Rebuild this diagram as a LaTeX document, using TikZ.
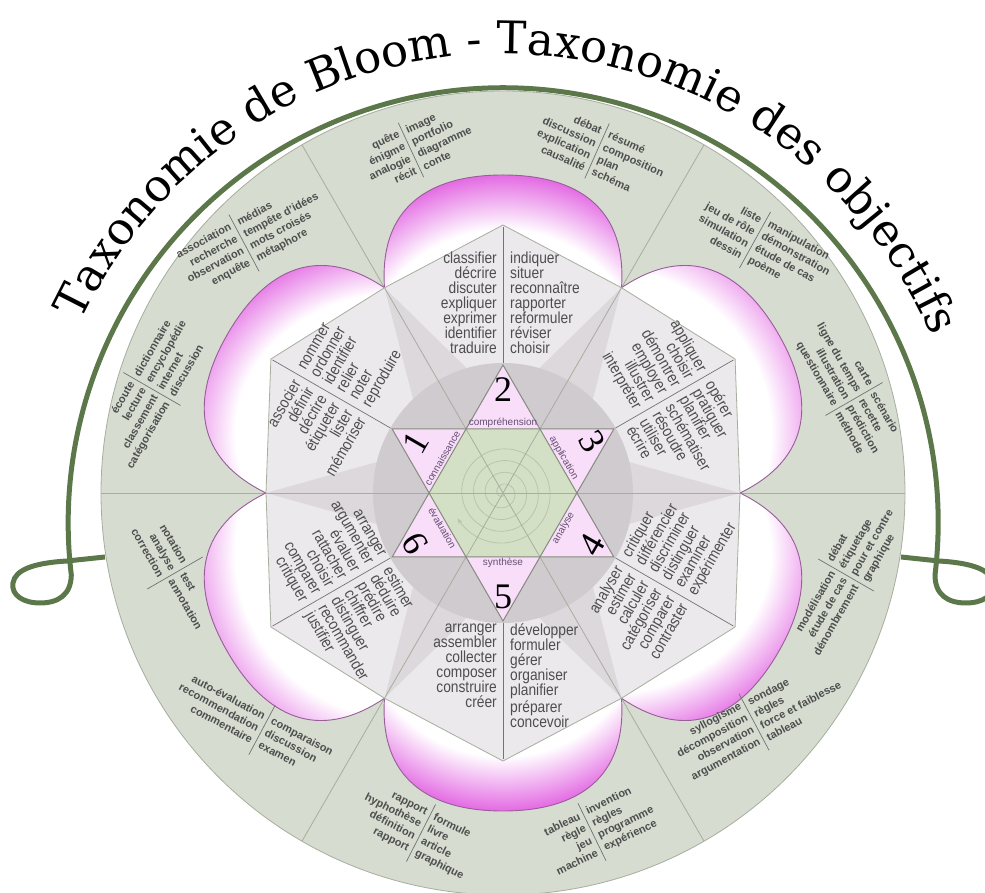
\documentclass[tikz,border=0pt]{standalone}
\usepackage{fontspec}
\setmainfont{Liberation Sans}
\newfontfamily\titlefont{DejaVu Serif}
\newfontfamily\numfont{Liberation Serif}
\newfontfamily\verbfont[FakeStretch=0.86]{Liberation Sans}
\usetikzlibrary{decorations.text,arrows.meta}

\definecolor{ringgrey}{RGB}{214,220,208}
\definecolor{ruleline}{RGB}{166,174,158}
\definecolor{hexfill}{RGB}{236,233,236}
\definecolor{wedgegrey}{RGB}{220,216,220}
\definecolor{coregrey}{RGB}{207,203,207}
\definecolor{starpink}{RGB}{248,222,248}
\definecolor{stargreen}{RGB}{212,224,198}
\definecolor{petalpink}{RGB}{228,110,228}
\definecolor{petaledge}{RGB}{150,96,150}
\definecolor{titlegreen}{RGB}{92,120,74}
\definecolor{wordgrey}{RGB}{78,78,78}
\definecolor{levelpurple}{RGB}{100,80,115}
\definecolor{spiralgrey}{RGB}{185,196,174}

\pgfdeclareradialshading{petalshade}{\pgfpointorigin}{color(0bp)=(white); color(17.5bp)=(white); color(24bp)=(petalpink); color(50bp)=(petalpink)}

\tikzstyle{titlearc}=[draw=titlegreen, line width=5pt]
\tikzstyle{divline}=[draw=ruleline, line width=0.8pt]
\tikzstyle{staredge}=[draw=ruleline!80!black, line width=1pt]
\tikzstyle{sepline}=[draw=black!55, line width=0.7pt]
\tikzstyle{petalrim}=[draw=petaledge, line width=0.9pt]
\tikzstyle{verbl}=[font=\verbfont\fontsize{16}{15}\selectfont, text=wordgrey, align=right, anchor=north east, inner sep=0pt, execute at begin node={\rule{0pt}{12pt}}]
\tikzstyle{verbr}=[verbl, align=left, anchor=north west]
\tikzstyle{ideal}=[font=\bfseries\fontsize{11}{13.5}\selectfont, text=wordgrey, align=right, anchor=east, inner sep=0pt]
\tikzstyle{idear}=[ideal, align=left, anchor=west]
\tikzstyle{levelname}=[font=\fontsize{10}{10}\selectfont, text=levelpurple, inner sep=0pt]
\tikzstyle{levelnum}=[font=\numfont\fontsize{36}{36}\selectfont, inner sep=0pt]

\newcommand\petalpath{(-118.5,205.2) .. controls (-124,285) and (-75,318) .. (0,318) .. controls (75,318) and (124,285) .. (118.5,205.2) -- cycle}

% verbs of one level: name, rotation, top, left column, right column
\newcommand\verbpair[5]{%
  \begin{scope}[rotate=#2, transform shape]
    \node[verbl] (#1-l) at (-6,#3) {#4};
    \node[verbr] (#1-r) at (7,#3) {#5};
  \end{scope}}

% activities in the outer ring: name, position, rotation, half rule, left, right
\newcommand\ideapair[6]{%
  \begin{scope}[shift={#2}, rotate=#3, transform shape]
    \node[ideal] (#1-l) at (-4,0) {#5};
    \node[idear] (#1-r) at (4,0) {#6};
    \draw[sepline] (0,-#4) -- (0,#4);
  \end{scope}}

\begin{document}
\begin{tikzpicture}[x=1pt,y=1pt]
\useasboundingbox (-503,-400) rectangle (482,493);

% green arc with its two loops
\draw[titlearc] (398,-64) -- (436,-68) .. controls (470,-70) and (488,-77) .. (490,-90)
  .. controls (492,-102) and (480,-110) .. (463,-110)
  .. controls (445,-110) and (432,-102) .. (432,-82)
  arc[start angle=-6.9, end angle=186.9, radius=435]
  .. controls (-432,-102) and (-445,-110) .. (-463,-110)
  .. controls (-480,-110) and (-492,-102) .. (-490,-90)
  .. controls (-488,-77) and (-470,-70) .. (-436,-68) -- (-398,-64);

\filldraw[fill=ringgrey, draw=ruleline, line width=0.8pt] (0,0) circle (402);
\foreach \a in {0,60,...,300}
  \draw[divline] (\a:237) -- (\a:402);

% petals
\foreach \a in {0,60,...,300}{
  \begin{scope}[rotate=\a]
    \clip \petalpath;
    \fill[petalpink] (-130,195) rectangle (130,325);
    \shade[shading=petalshade] (0,120) circle (205);
  \end{scope}
  \draw[petalrim, rotate=\a] \petalpath;
}

\filldraw[fill=hexfill, draw=ruleline, line width=0.8pt] (0:237)
  \foreach \a in {30,90,...,330}{ -- (\a:268) -- (\a+30:237)} -- cycle;
\foreach \a in {0,60,...,300}
  \fill[wedgegrey] (\a:237) -- (\a+14:129) -- (\a-14:129) -- cycle;
\fill[coregrey] (0,0) circle (130);

% star
\fill[starpink] (90:128) -- (210:128) -- (330:128) -- cycle;
\fill[starpink] (270:128) -- (30:128) -- (150:128) -- cycle;
\fill[stargreen] (0:74) -- (60:74) -- (120:74) -- (180:74) -- (240:74) -- (300:74) -- cycle;
\draw[spiralgrey, line width=0.8pt, -{Stealth[length=6pt]}]
  plot[domain=0:1591, samples=300, smooth, variable=\t] ({-\t}:{\t/30.6});
\foreach \a in {0,60,120}
  \draw[divline] (\a:237) -- (\a+180:237);
\draw[staredge] (90:128) -- (210:128) -- (330:128) -- cycle;
\draw[staredge] (270:128) -- (30:128) -- (150:128) -- cycle;
\foreach \a in {30,90,...,330}
  \draw[sepline] (\a:130) -- (\a:266);

\node[levelname] (lvl2) at (90:70) {compréhension};
\node[levelname, rotate=-60] (lvl3) at (30:70) {application};
\node[levelname, rotate=60] (lvl4) at (-30:70) {analyse};
\node[levelname] (lvl5) at (270:70) {synthèse};
\node[levelname, rotate=-60] (lvl6) at (210:70) {évaluation};
\node[levelname, rotate=60] (lvl1) at (150:70) {connaissance};

\node[levelnum] (num2) at (90:103) {2};
\node[levelnum, rotate=-60] (num3) at (30:103) {3};
\node[levelnum, rotate=60] (num4) at (-30:103) {4};
\node[levelnum] (num5) at (270:104) {5};
\node[levelnum, rotate=-60] (num6) at (210:101) {6};
\node[levelnum, rotate=60] (num1) at (150:101) {1};

\verbpair{compr}{0}{241}{classifier\\décrire\\discuter\\expliquer\\exprimer\\identifier\\traduire}{indiquer\\situer\\reconnaître\\rapporter\\reformuler\\réviser\\choisir}
\verbpair{conn}{60}{241}{associer\\définir\\décrire\\étiqueter\\lister\\mémoriser}{nommer\\ordonner\\identifier\\relier\\noter\\reproduire}
\verbpair{appl}{-60}{241}{appliquer\\choisir\\démontrer\\employer\\illustrer\\interpréter}{opérer\\pratiquer\\planifier\\schématiser\\résoudre\\utiliser\\écrire}
\verbpair{synth}{0}{-131}{arranger\\assembler\\collecter\\composer\\construire\\créer}{développer\\formuler\\gérer\\organiser\\planifier\\préparer\\concevoir}
\verbpair{anal}{60}{-131}{analyser\\estimer\\calculer\\catégoriser\\comparer\\contraster}{critiquer\\différencier\\discriminer\\distinguer\\examiner\\expérimenter}
\verbpair{eval}{-60}{-131}{arranger\\argumenter\\évaluer\\rattacher\\choisir\\comparer\\critiquer}{estimer\\déduire\\prédire\\chiffrer\\distinguer\\recommander\\justifier}

\ideapair{quete}{(-92,343)}{25}{30}{quête\\énigme\\analogie\\récit}{image\\portfolio\\diagramme\\conte}
\ideapair{debat}{(94,342)}{-24}{30}{débat\\discussion\\explication\\causalité}{résumé\\composition\\plan\\schéma}
\ideapair{assoc}{(-259,250)}{28}{32}{association\\recherche\\observation\\enquête}{médias\\tempête d'idées\\mots croisés\\métaphore}
\ideapair{liste}{(252,253)}{-29}{32}{liste\\jeu de rôle\\simulation\\dessin}{manipulation\\démonstration\\étude de cas\\poème}
\ideapair{ecoute}{(-351,104)}{60}{33}{écoute\\lecture\\classement\\catégorisation}{dictionnaire\\encyclopédie\\internet\\discussion}
\ideapair{carte}{(351,94)}{-60}{33}{carte\\ligne du temps\\illustration\\questionnaire}{scénario\\recette\\prédiction\\méthode}
\ideapair{notat}{(-328,-80)}{-60}{32}{notation\\analyse\\correction}{test\\annotation}
\ideapair{model}{(343,-82)}{60}{32}{modélisation\\étude de cas\\dénombrement}{débat\\étiquetage\\pour et contre\\graphique}
\ideapair{autoev}{(-241,-237)}{-28}{28}{auto-évaluation\\recommendation\\commentaire}{comparaison\\discussion\\examen}
\ideapair{syllog}{(251,-229)}{28}{32}{syllogisme\\décomposition\\observation\\argumentation}{sondage\\règles\\force et faiblesse\\tableau}
\ideapair{rapport}{(-82,-340)}{-27}{32}{rapport\\hyphothèse\\définition\\rapport}{formule\\livre\\article\\graphique}
\ideapair{tableau}{(89,-339)}{26}{32}{tableau\\règle\\jeu\\machine}{invention\\règles\\programme\\expérience}

% title
\path[decorate, decoration={text along path, text align=center,
  text={|\titlefont\fontsize{45}{45}\selectfont|Taxonomie de Bloom - Taxonomie des objectifs}}]
  (0,-27) ++(165:466) arc[start angle=165, end angle=13, radius=466];
\end{tikzpicture}
\end{document}
